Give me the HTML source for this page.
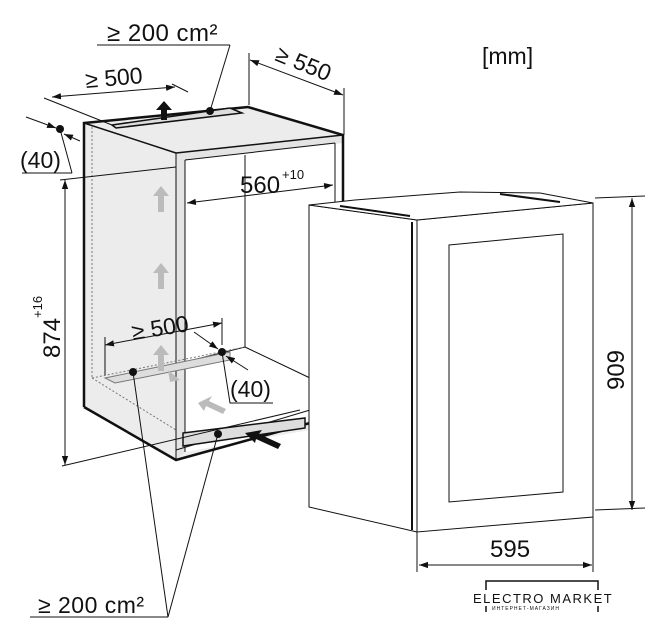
<!DOCTYPE html>
<html><head><meta charset="utf-8"><style>
html,body{margin:0;padding:0;background:#fff;}
svg{display:block;}
text{font-family:"Liberation Sans",sans-serif;fill:#111;}
</style></head><body>
<svg width="665" height="640" viewBox="0 0 665 640" xmlns="http://www.w3.org/2000/svg">
<defs>
<marker id="a" viewBox="0 0 10 10" refX="10" refY="5" markerWidth="9" markerHeight="9" orient="auto-start-reverse"><path d="M0,1.5 L10,5 L0,8.5 Z" fill="#111"/></marker>
</defs>
<g stroke="#111" fill="none" stroke-width="1">
<polygon points="84,123 176,153 176,460 84,407" fill="#ececec" stroke="none"/>
<polygon points="84,123 248,107 343,135 176,153" fill="#ececec" stroke="none"/>
<polygon points="176,153 343,135 343,143 185,160" fill="#e4e4e4" stroke="none"/>
<polygon points="176,153 185,160 185,452 176,460" fill="#e4e4e4" stroke="none"/>
<polygon points="176,460 310,420 310,430 185,452" fill="#eee" stroke="none"/>
<polyline points="84,407 84,123 248,107 343,135 343,205" stroke-width="2.5"/>
<polyline points="84,407 176,460 310,423" stroke-width="2.5"/>
<line x1="84" y1="123" x2="176" y2="153" stroke-width="1.5"/>
<line x1="176" y1="153" x2="343" y2="135" stroke-width="1.5"/>
<line x1="176" y1="153" x2="176" y2="460"/>
<line x1="185" y1="160" x2="185" y2="452"/>
<line x1="185" y1="160" x2="335" y2="143"/>
<line x1="335" y1="143" x2="335" y2="205"/>
<line x1="245" y1="155" x2="245" y2="347"/>
<line x1="245" y1="347" x2="310" y2="378"/>
<line x1="185" y1="362" x2="245" y2="347"/>
<line x1="176" y1="450" x2="310" y2="410"/>
<line x1="92" y1="127" x2="92" y2="378" stroke-dasharray="2,2" stroke="#777"/>
<line x1="92" y1="378" x2="176" y2="430" stroke-dasharray="2,2" stroke="#777"/>
<line x1="92" y1="378" x2="245" y2="347" stroke-dasharray="2,2" stroke="#777"/>
<polygon points="112,125 230,108 242,113 116,128" fill="#ddd" stroke-width="1.5"/>
<polygon points="105,378 230,352 230,360 115,383" fill="#ddd" stroke="#777"/>
<polygon points="183,433 305,418 305,428 183,446" fill="#ddd" stroke-width="1.5"/>
<g fill="#bbb" stroke="none">
<polygon points="161,186 153,196 158,196 158,212 164,212 164,196 169,196"/>
<polygon points="161,263 153,273 158,273 158,289 164,289 164,273 169,273"/>
<polygon points="161,345 153,355 158,355 158,371 164,371 164,355 169,355"/>
<polygon points="198,403 212,396 209,401 226,409 223,414 206,406 204,411"/>
<polygon points="168,370 180,380 170,382"/>
</g>
<polygon points="164,101 156,110 161,110 161,120 167,120 167,110 172,110" fill="#111" stroke="none"/>
<polygon points="245,433 262,430 259,434 281,444 278,449 256,439 255,443" fill="#111" stroke="none"/>
<g fill="#111" stroke="none">
<circle cx="210" cy="111" r="4"/><circle cx="60" cy="129" r="4"/>
<circle cx="133" cy="372" r="4"/><circle cx="222" cy="352" r="4"/><circle cx="218" cy="434" r="4"/>
</g>
<polygon points="309,205 417,220 417,532 309,507" fill="#fff"/>
<polygon points="417,220 593,203 593,517 417,532" fill="#fff"/>
<polygon points="309,205 355,200 420,195 460,192 540,193 593,203 417,220" fill="#fff"/>
<line x1="412" y1="222" x2="412" y2="530" stroke-width="2"/>
<polygon points="449,245 563,234 563,492 449,502"/>
<line x1="340" y1="206" x2="410" y2="216" stroke-width="2"/>
<line x1="500" y1="194" x2="560" y2="202" stroke-width="2"/>
<line x1="97" y1="45" x2="230" y2="45"/><polyline points="230,45 210,111"/>
<line x1="52" y1="97" x2="175" y2="87" marker-start="url(#a)" marker-end="url(#a)"/>
<line x1="44" y1="98" x2="112" y2="125"/><line x1="172" y1="84" x2="188" y2="92"/>
<line x1="250" y1="60" x2="343" y2="95" marker-start="url(#a)" marker-end="url(#a)"/>
<line x1="249" y1="53" x2="249" y2="105"/><line x1="344" y1="88" x2="344" y2="135"/>
<line x1="26" y1="117" x2="56" y2="128" marker-end="url(#a)"/>
<line x1="80" y1="141" x2="64" y2="134" marker-end="url(#a)"/>
<line x1="22" y1="173" x2="72" y2="173"/><line x1="72" y1="173" x2="60" y2="129"/>
<line x1="60" y1="180" x2="176" y2="167"/>
<line x1="187" y1="203" x2="333" y2="185" marker-start="url(#a)" marker-end="url(#a)"/>
<line x1="65" y1="180" x2="65" y2="465" marker-start="url(#a)" marker-end="url(#a)"/>
<line x1="62" y1="466" x2="300" y2="410"/>
<line x1="105" y1="345" x2="222" y2="323" marker-start="url(#a)" marker-end="url(#a)"/>
<line x1="105" y1="337" x2="105" y2="375"/><line x1="222" y1="318" x2="222" y2="345"/>
<line x1="194" y1="332" x2="218" y2="349" marker-end="url(#a)"/>
<line x1="248" y1="370" x2="226" y2="356" marker-end="url(#a)"/>
<polyline points="222,352 230,403 273,403"/>
<polyline points="133,372 168,617 218,434"/><line x1="30" y1="617" x2="168" y2="617"/>
<line x1="632" y1="198" x2="632" y2="510" marker-start="url(#a)" marker-end="url(#a)"/>
<line x1="595" y1="198" x2="645" y2="196"/><line x1="595" y1="510" x2="645" y2="508"/>
<line x1="419" y1="565" x2="592" y2="565" marker-start="url(#a)" marker-end="url(#a)"/>
<line x1="417" y1="532" x2="417" y2="572"/><line x1="593" y1="517" x2="593" y2="572"/>
<polyline points="486,590 486,581 598,581 598,590" stroke-width="1.5"/>
<line x1="486" y1="606" x2="486" y2="612" stroke-width="1.5"/><line x1="598" y1="606" x2="598" y2="612" stroke-width="1.5"/>
</g>
<text x="107" y="41" font-size="24" letter-spacing="0.5">≥ 200 cm²</text>
<text x="86" y="88" font-size="23" transform="rotate(-5 86 88)">≥ 500</text>
<text x="274" y="60" font-size="23" transform="rotate(22 274 60)">≥ 550</text>
<text x="482" y="64" font-size="23">[mm]</text>
<text x="20" y="168" font-size="23">(40)</text>
<text x="240" y="193" font-size="24">560</text>
<text x="282" y="179" font-size="13">+10</text>
<text x="133" y="340" font-size="23" transform="rotate(-9 133 340)">≥ 500</text>
<text x="230" y="397" font-size="23">(40)</text>
<text x="60" y="358" font-size="24" transform="rotate(-90 60 358)">874</text>
<text x="42" y="318" font-size="13" transform="rotate(-90 42 318)">+16</text>
<text x="624" y="370" font-size="24" text-anchor="middle" transform="rotate(-90 624 370)">909</text>
<text x="490" y="557" font-size="24">595</text>
<text x="38" y="613" font-size="23" letter-spacing="0.5">≥ 200 cm²</text>
<text x="473" y="603" font-size="13" letter-spacing="1.5">ELECTRO MARKET</text>
<text x="492" y="610" font-size="5" letter-spacing="1">ИНТЕРНЕТ-МАГАЗИН</text>
</svg>
</body></html>
